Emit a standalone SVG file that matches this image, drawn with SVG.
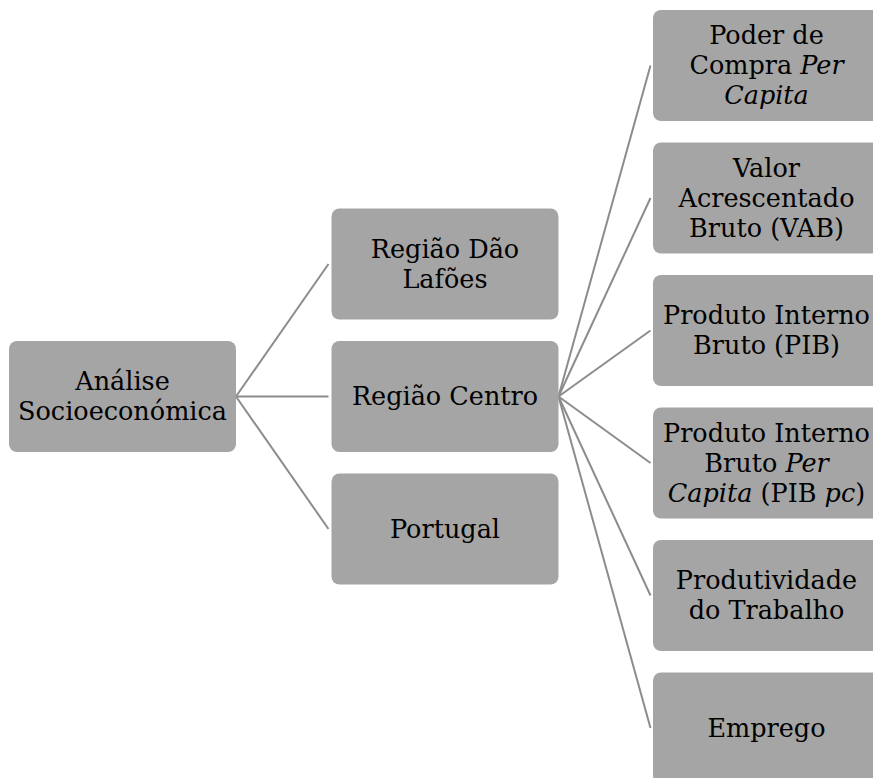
<svg xmlns="http://www.w3.org/2000/svg" width="873" height="778" viewBox="0 0 873 778">
<style>
.box{fill:#a5a5a5;}
.lbl{font-family:"DejaVu Serif","Liberation Serif",serif;font-size:25.5px;fill:#000;text-anchor:middle;}
.it{font-style:italic;}
.conn{stroke:#8c8c8c;stroke-width:2;fill:none;}
</style>
<rect width="873" height="778" fill="#ffffff"/>
<g id="connectors">
<line class="conn" x1="236" y1="396.5" x2="328.5" y2="264"/>
<line class="conn" x1="236" y1="396.5" x2="328.5" y2="396.5"/>
<line class="conn" x1="236" y1="396.5" x2="328.5" y2="529"/>
<line class="conn" x1="558.5" y1="396.5" x2="650.5" y2="65.5"/>
<line class="conn" x1="558.5" y1="396.5" x2="650.5" y2="198"/>
<line class="conn" x1="558.5" y1="396.5" x2="650.5" y2="330.5"/>
<line class="conn" x1="558.5" y1="396.5" x2="650.5" y2="463"/>
<line class="conn" x1="558.5" y1="396.5" x2="650.5" y2="595.5"/>
<line class="conn" x1="558.5" y1="396.5" x2="650.5" y2="728"/>
</g>
<g id="n-analise">
<rect class="box" x="9" y="341" width="227" height="111" rx="8"/>
<text class="lbl" x="122.5" y="390">Análise</text>
<text class="lbl" x="122.5" y="420">Socioeconómica</text>
</g>
<g id="n-dao">
<rect class="box" x="331.5" y="208.5" width="227" height="111" rx="8"/>
<text class="lbl" x="445" y="257.5">Região Dão</text>
<text class="lbl" x="445" y="287.5">Lafões</text>
</g>
<g id="n-centro">
<rect class="box" x="331.5" y="341" width="227" height="111" rx="8"/>
<text class="lbl" x="445" y="405">Região Centro</text>
</g>
<g id="n-portugal">
<rect class="box" x="331.5" y="473.5" width="227" height="111" rx="8"/>
<text class="lbl" x="445" y="537.5">Portugal</text>
</g>
<g id="n-poder">
<rect class="box" x="653" y="10" width="227" height="111" rx="8"/>
<text class="lbl" x="766.5" y="44">Poder de</text>
<text class="lbl" x="766.5" y="74">Compra <tspan class="it">Per</tspan></text>
<text class="lbl it" x="766.5" y="104">Capita</text>
</g>
<g id="n-vab">
<rect class="box" x="653" y="142.5" width="227" height="111" rx="8"/>
<text class="lbl" x="766.5" y="176.5">Valor</text>
<text class="lbl" x="766.5" y="206.5">Acrescentado</text>
<text class="lbl" x="766.5" y="236.5">Bruto (VAB)</text>
</g>
<g id="n-pib">
<rect class="box" x="653" y="275" width="227" height="111" rx="8"/>
<text class="lbl" x="766.5" y="324">Produto Interno</text>
<text class="lbl" x="766.5" y="354">Bruto (PIB)</text>
</g>
<g id="n-pibpc">
<rect class="box" x="653" y="407.5" width="227" height="111" rx="8"/>
<text class="lbl" x="766.5" y="441.5">Produto Interno</text>
<text class="lbl" x="766.5" y="471.5">Bruto <tspan class="it">Per</tspan></text>
<text class="lbl" x="766.5" y="501.5"><tspan class="it">Capita</tspan> (PIB <tspan class="it">pc</tspan>)</text>
</g>
<g id="n-produtividade">
<rect class="box" x="653" y="540" width="227" height="111" rx="8"/>
<text class="lbl" x="766.5" y="589">Produtividade</text>
<text class="lbl" x="766.5" y="619">do Trabalho</text>
</g>
<g id="n-emprego">
<rect class="box" x="653" y="672.5" width="227" height="111" rx="8"/>
<text class="lbl" x="766.5" y="736.5">Emprego</text>
</g>
</svg>
